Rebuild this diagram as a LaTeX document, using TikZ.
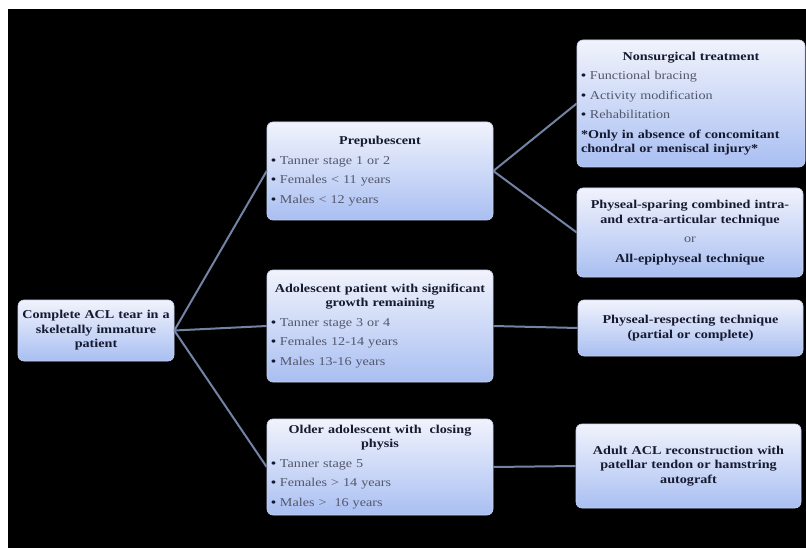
\documentclass[tikz,border=0pt]{standalone}
\usepackage{fontspec}
\newfontfamily\chartfont[FakeStretch=1.18]{Liberation Serif}
\definecolor{boxtop}{HTML}{F1F3FC}
\definecolor{boxbot}{HTML}{A9BFF2}
\definecolor{boxedge}{HTML}{C9D3F2}
\definecolor{titleink}{HTML}{161A30}
\definecolor{itemink}{HTML}{53576B}
\definecolor{linkblue}{HTML}{7383A3}

\tikzset{
  box/.style={rounded corners=6pt, top color=boxtop, bottom color=boxbot,
    draw=boxedge, line width=0.6pt, inner sep=4pt, text=titleink,
    font=\chartfont\fontsize{12}{14.5}\selectfont,
    execute at begin node={\setlength{\parskip}{5pt}\raggedright}},
  link/.style={draw=linkblue, line width=2pt},
}
\newcommand{\bitem}[1]{{\color{titleink}\bfseries\textbullet}\ {\color{itemink}#1}\par}
\newcommand{\boxtitle}[1]{{\centering\bfseries #1\par}}

\begin{document}
\begin{tikzpicture}[x=1pt,y=-1pt]
\useasboundingbox (0,0) rectangle (806,548);
\fill[white] (0,0) rectangle (806,548);
\fill[black] (8,9) rectangle (806,548);

% root
\node[box, minimum width=156pt, minimum height=61pt, text width=148pt] (tear) at (96,330.5)
  {\boxtitle{Complete ACL tear in a\\ skeletally immature\\ patient}};

% age groups
\node[box, minimum width=226pt, minimum height=98pt, text width=218pt] (prepub) at (380,171)
  {\boxtitle{Prepubescent}
   \bitem{Tanner stage 1 or 2}
   \bitem{Females < 11 years}
   \bitem{Males < 12 years}};
\node[box, minimum width=226pt, minimum height=112pt, text width=218pt] (adol) at (380,326)
  {\boxtitle{Adolescent patient with significant\\ growth remaining}
   \bitem{Tanner stage 3 or 4}
   \bitem{Females 12-14 years}
   \bitem{Males 13-16 years}};
\node[box, minimum width=226pt, minimum height=96pt, text width=218pt] (older) at (380,467)
  {\boxtitle{Older adolescent with\ \ closing\\ physis}
   \bitem{Tanner stage 5}
   \bitem{Females > 14 years}
   \bitem{Males > \ 16 years}};

% treatments
\node[box, minimum width=228pt, minimum height=127pt, text width=220pt] (nonsurg) at (691,103.5)
  {\boxtitle{Nonsurgical treatment}
   \bitem{Functional bracing}
   \bitem{Activity modification}
   \bitem{Rehabilitation}
   {\bfseries *Only in absence of concomitant\\ chondral or meniscal injury*\par}};
\node[box, minimum width=226pt, minimum height=89pt, text width=218pt] (sparing) at (690,232.5)
  {\boxtitle{Physeal-sparing combined intra-\\ and extra-articular technique}
   {\centering\color{itemink}or\par}
   \boxtitle{All-epiphyseal technique}};
\node[box, minimum width=225pt, minimum height=56pt, text width=217pt] (respect) at (690.5,328)
  {\boxtitle{Physeal-respecting technique\\ (partial or complete)}};
\node[box, minimum width=225pt, minimum height=84pt, text width=217pt] (adult) at (688.5,466)
  {\boxtitle{Adult ACL reconstruction with\\ patellar tendon or hamstring\\ autograft}};

\path[link] (tear.east) -- (prepub.west);
\path[link] (tear.east) -- (adol.west);
\path[link] (tear.east) -- (older.west);
\path[link] (prepub.east) -- (nonsurg.west);
\path[link] (prepub.east) -- (sparing.west);
\path[link] (adol.east) -- (respect.west);
\path[link] (older.east) -- (adult.west);
\end{tikzpicture}
\end{document}
